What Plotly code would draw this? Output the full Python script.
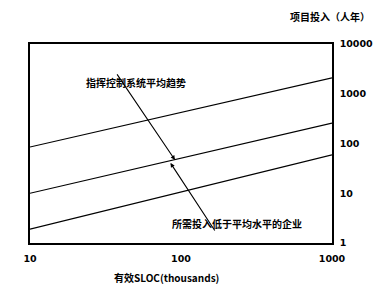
import plotly.graph_objects as go

# data
sloc = [10, 1000]
trend_upper = [85, 2080]
trend_avg = [10, 257]
trend_lower = [1.9, 59]

x_tickvals = [10, 100, 1000]
x_ticktext = ["10", "100", "1000"]
y_tickvals = [1, 10, 100, 1000, 10000]
y_ticktext = ["1", "10", "100", "1000", "10000"]

x_title = "有效SLOC(thousands)"
y_title = "项目投入（人年）"
note_avg = "指挥控制系统平均趋势"
note_low = "所需投入低于平均水平的企业"

fig = go.Figure()
for ys in [trend_upper, trend_avg, trend_lower]:
    fig.add_trace(go.Scatter(x=sloc, y=ys, mode="lines",
                             line=dict(color="black", width=1.2),
                             showlegend=False, hoverinfo="skip"))

tickfont = dict(family="DejaVu Sans", size=9.5, color="black", weight="bold")
cjk = dict(family="Noto Sans CJK SC", size=10, color="black", weight="bold")

fig.update_layout(
    width=385, height=289,
    margin=dict(l=30, r=49, t=44, b=46),
    paper_bgcolor="white", plot_bgcolor="white",
    xaxis=dict(type="log", range=[1, 3], tickvals=x_tickvals, ticktext=x_ticktext,
               showgrid=False, zeroline=False, showline=True, mirror=True,
               linecolor="black", linewidth=1.5, ticks="", tickfont=tickfont,
               ticklabelstandoff=6),
    yaxis=dict(type="log", range=[0, 4], tickvals=y_tickvals, ticktext=y_ticktext,
               side="right", showgrid=False, zeroline=False, showline=True, mirror=True,
               linecolor="black", linewidth=1.5, ticks="", tickfont=tickfont,
               ticklabelstandoff=4),
    annotations=[
        dict(text=y_title, xref="paper", yref="paper", x=0.992, y=1.14,
             xanchor="center", yanchor="middle", showarrow=False, font=cjk),
        dict(text=x_title, xref="paper", yref="paper", x=0.451, y=-0.171,
             xanchor="center", yanchor="middle", showarrow=False, font=cjk),
        dict(text=note_avg, xref="x", yref="y", x=1.70, y=3.22,
             showarrow=False, font=cjk),
        dict(text=note_low, xref="x", yref="y", x=2.37, y=0.40,
             showarrow=False, font=cjk),
        dict(text="", xref="x", yref="y", x=1.96, y=1.67,
             axref="x", ayref="y", ax=1.57, ay=3.42,
             showarrow=True, arrowhead=2, arrowsize=0.8, arrowwidth=1.1,
             arrowcolor="black", standoff=0),
        dict(text="", xref="x", yref="y", x=1.93, y=1.61,
             axref="x", ayref="y", ax=2.23, ay=0.22,
             showarrow=True, arrowhead=2, arrowsize=0.8, arrowwidth=1.1,
             arrowcolor="black", standoff=0),
    ],
)

fig.write_html("out.html")
